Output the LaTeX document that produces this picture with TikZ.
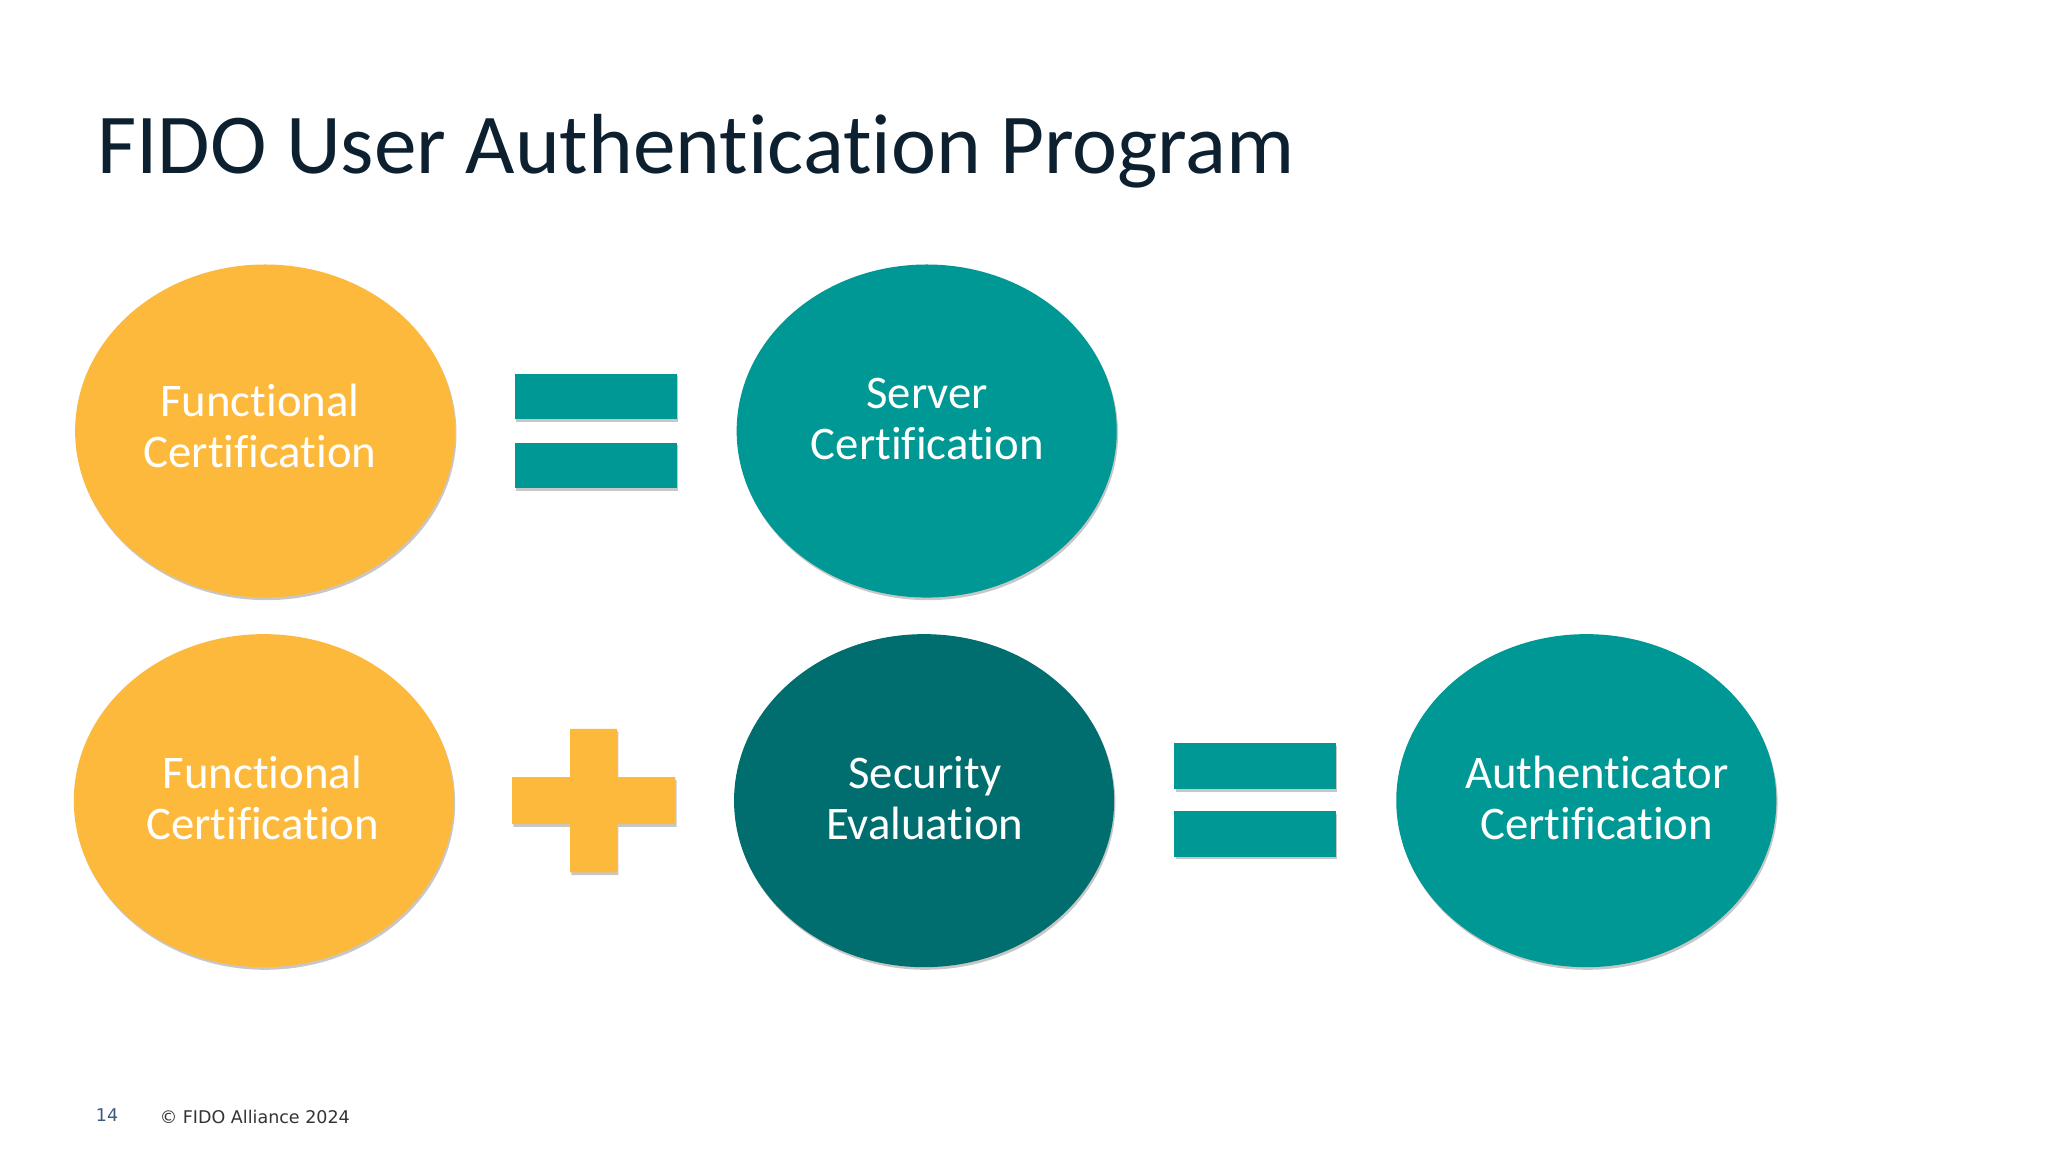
\documentclass[tikz,border=0pt]{standalone}
\usepackage{fontspec}
\setmainfont[Ligatures=NoCommon]{Carlito}
\newfontfamily\footfont{DejaVu Sans}
\usetikzlibrary{shapes.geometric,shadows}
\definecolor{fidoamber}{HTML}{FDB93C}
\definecolor{fidoteal}{HTML}{009894}
\definecolor{fidodark}{HTML}{006D6F}
\definecolor{fidoink}{HTML}{0D2030}
\definecolor{fidonum}{HTML}{3B5B7E}
\tikzset{
  softshadow/.style={drop shadow={shadow xshift=0.5pt,shadow yshift=-1pt,fill=black,opacity=0.22}},
  blob/.style={ellipse,inner sep=0pt,minimum width=145.5pt,minimum height=127.5pt,softshadow},
  bar/.style={rectangle,inner sep=0pt,minimum width=62pt,minimum height=17.5pt,fill=fidoteal,softshadow},
  lbl/.style={align=center,text=white,font=\fontsize{17.9}{19.5}\selectfont},
}

\begin{document}
\begin{tikzpicture}[x=0.5pt,y=-0.5pt]
   \useasboundingbox (0,0) rectangle (1568,882);
   \fill[white] (0,0) rectangle (1568,882);
   \node[anchor=west,text=fidoink,inner sep=0pt,font=\fontsize{32.65}{38}\selectfont] (title) at (74,116) {FIDO User Authentication Program};
 %
   \node[blob,fill=fidoamber] (func1) at (203,330) {};
   \node[blob,fill=fidoteal]  (serv)  at (709.5,330) {};
   \node[blob,fill=fidoamber] (func2) at (202,613) {};
   \node[blob,fill=fidodark]  (secu)  at (707.5,613) {};
   \node[blob,fill=fidoteal]  (auth)  at (1214.5,613) {};
 %
   \node[bar] (eqa1) at (456,303.5) {};
   \node[bar] (eqa2) at (456,356.5) {};
   \node[bar] (eqb1) at (961,586.5) {};
   \node[bar] (eqb2) at (961,638.5) {};
   \fill[fidoamber,softshadow] (436.5,558) -- (472.5,558) -- (472.5,595) -- (517,595) -- (517,631)
      -- (472.5,631) -- (472.5,668) -- (436.5,668) -- (436.5,631) -- (392,631) -- (392,595) -- (436.5,595) -- cycle;
 %
   \node[lbl] (func1t) at (199,326) {Functional\\Certification};
   \node[lbl] (servt)  at (710,321) {Server\\Certification};
   \node[lbl] (func2t) at (201,611) {Functional\\Certification};
   \node[lbl] (secut)  at (708,611) {Security\\Evaluation};
   \node[lbl] (autht)  at (1222.5,611) {Authenticator\\Certification};
 %
   \node[anchor=west,inner sep=0pt,text=fidonum,font=\footfont\fontsize{6.7}{8}\selectfont] (page) at (73,854) {14};
   \node[anchor=west,inner sep=0pt,text=black!80,font=\footfont\fontsize{6.7}{8}\selectfont] (copy) at (122,855.5) {© FIDO Alliance 2024};
\end{tikzpicture}
\end{document}
